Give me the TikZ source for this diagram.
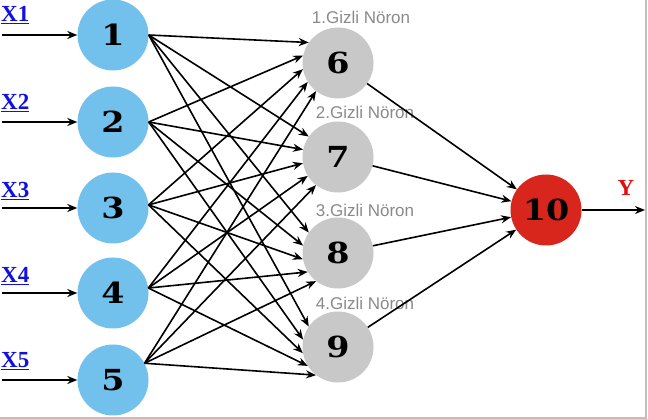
\documentclass[tikz,border=0pt]{standalone}
\usepackage{fontspec}
\setmainfont{Liberation Serif}
\newfontfamily\numfont[FakeStretch=1.15]{DejaVu Serif}
\newfontfamily\lblfont{Liberation Sans}
\usetikzlibrary{arrows.meta}
\definecolor{inblue}{HTML}{72C0EC}
\definecolor{hidgray}{HTML}{C8C8C8}
\definecolor{outred}{HTML}{D8261C}
\definecolor{xblue}{HTML}{1010E0}
\definecolor{ylabred}{HTML}{E01010}
\definecolor{lblgray}{HTML}{8A8A8A}
\definecolor{framegray}{HTML}{C0C0C0}
\begin{document}
\begin{tikzpicture}[x=1pt,y=-1pt,
  neuron/.style={circle,minimum size=71pt,inner sep=0pt,
    font=\numfont\bfseries\fontsize{29}{29}\selectfont},
  inp/.style={neuron,fill=inblue},
  hid/.style={neuron,fill=hidgray},
  outn/.style={neuron,fill=outred},
  conn/.style={line width=1.6pt,-{Stealth[length=10pt,width=8pt]}},
  xlab/.style={font=\bfseries\fontsize{23}{23}\selectfont,text=xblue,inner sep=0pt,anchor=base west},
  hlab/.style={font=\lblfont\fontsize{17}{17}\selectfont,text=lblgray,inner sep=0pt},
]
\useasboundingbox (0,0) rectangle (648,419);
\fill[white] (0,0) rectangle (648,419);
\draw[framegray,line width=2pt] (646,0) -- (646,418) -- (0,418);

% input layer
\node[inp] (in1) at (113,35) {1};
\node[inp] (in2) at (113,122) {2};
\node[inp] (in3) at (113,208) {3};
\node[inp] (in4) at (113,293) {4};
\node[inp] (in5) at (113,380) {5};

% hidden layer
\node[hid] (h6) at (338,63) {6};
\node[hid] (h7) at (338,157) {7};
\node[hid] (h8) at (338,253) {8};
\node[hid] (h9) at (338,347) {9};

% output
\node[outn] (o10) at (546,210) {10};

% hidden labels
\node[hlab] (l6) at (361,17) {1.Gizli Nöron};
\node[hlab] (l7) at (365,112) {2.Gizli Nöron};
\node[hlab] (l8) at (365,210) {3.Gizli Nöron};
\node[hlab] (l9) at (365,303) {4.Gizli Nöron};

% input arrows and labels
\foreach \i/\y in {1/35,2/122,3/208,4/293,5/380}{
  \coordinate (s\i) at (2,\y);
  \draw[conn] (s\i) -- (in\i.west);
}
\node[xlab] (x1) at (1,22) {\underline{X1}};
\node[xlab] (x2) at (1,110) {\underline{X2}};
\node[xlab] (x3) at (1,198) {\underline{X3}};
\node[xlab] (x4) at (1,283) {\underline{X4}};
\node[xlab] (x5) at (1,368) {\underline{X5}};

% input -> hidden
\coordinate (src1) at (in1.east);
\coordinate (src2) at (in2.east);
\coordinate (src3) at (in3.5);
\coordinate (src4) at (in4.8);
\coordinate (src5) at (in5.28);
\foreach \i/\a in {1/145,2/168,3/190,4/212,5/232}{
  \foreach \j in {6,7,8,9}{
    \draw[conn] (src\i) -- (h\j.\a);
  }
}

% hidden -> output
\foreach \j in {6,7,8,9}{
  \draw[conn] (h\j) -- (o10);
}

% output arrow
\coordinate (yend) at (645,210);
\draw[conn] (o10.east) -- (yend);
\node[font=\bfseries\fontsize{23}{23}\selectfont,text=ylabred] (ylab) at (626,188) {Y};
\end{tikzpicture}
\end{document}
